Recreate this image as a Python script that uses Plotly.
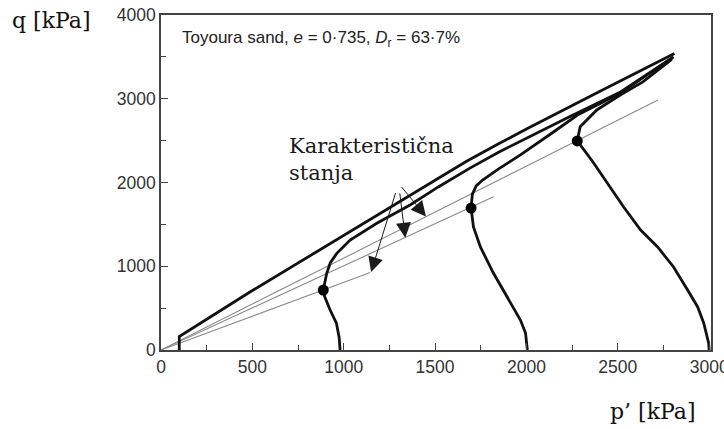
import plotly.graph_objects as go

# Undrained stress paths of Toyoura sand, p' vs q (kPa)
p_100 = [100, 100, 500, 1000, 1363, 1520, 1670, 1840, 2000, 2400, 2810]
q_100 = [0, 160, 710, 1370, 1851, 2060, 2250, 2454, 2638, 3086, 3540]

p_1000 = [980, 975, 960, 925, 895, 888, 907, 926, 962, 1035, 1181, 1363, 1520, 1693, 1850, 2000, 2241, 2515, 2805]
q_1000 = [0, 150, 320, 480, 640, 716, 916, 1039, 1154, 1313, 1513, 1731, 1950, 2175, 2365, 2530, 2790, 3081, 3500]

p_2000 = [2005, 1995, 1967, 1896, 1819, 1748, 1710, 1697, 1704, 1725, 1760, 1850, 1967, 2148, 2279, 2422, 2515, 2800]
q_2000 = [0, 203, 358, 633, 919, 1230, 1469, 1695, 1860, 1960, 2030, 2165, 2329, 2603, 2806, 2965, 3070, 3490]

p_3000 = [3000, 2997, 2970, 2937, 2882, 2805, 2718, 2625, 2532, 2444, 2363, 2278, 2294, 2385, 2513, 2639, 2795]
q_3000 = [0, 84, 322, 514, 717, 991, 1230, 1433, 1708, 1994, 2248, 2496, 2666, 2866, 3045, 3204, 3470]

# Characteristic states (marked points) and the lines from the origin through them
cs_p = [888, 1697, 2278]
cs_q = [716, 1695, 2496]
cs_line_end_p = [1145, 1820, 2720]
cs_line_end_q = [925, 1830, 2985]

# Label arrows: common tail, heads on the characteristic-state lines
arrow_tail_p, arrow_tail_q = 1300, 1990
arrow_tip_p = [1450, 1337, 1150]
arrow_tip_q = [1595, 1340, 930]

x_ticks = [0, 500, 1000, 1500, 2000, 2500, 3000]
y_ticks = [0, 1000, 2000, 3000, 4000]

fig = go.Figure()

for pe, qe in zip(cs_line_end_p, cs_line_end_q):
    fig.add_trace(go.Scatter(x=[0, pe], y=[0, qe], mode="lines",
                             line=dict(color="#8a8a8a", width=1.1),
                             hoverinfo="skip", showlegend=False))

for px, qy in [(p_100, q_100), (p_1000, q_1000), (p_2000, q_2000), (p_3000, q_3000)]:
    fig.add_trace(go.Scatter(x=px, y=qy, mode="lines",
                             line=dict(color="#111111", width=2.8),
                             showlegend=False))

fig.add_trace(go.Scatter(x=cs_p, y=cs_q, mode="markers",
                         marker=dict(color="#000000", size=11),
                         showlegend=False))

serif = "DejaVu Serif"
sans = "Liberation Sans, Arial, sans-serif"

annotations = []
for tp, tq in zip(arrow_tip_p, arrow_tip_q):
    annotations.append(dict(x=tp, y=tq, ax=arrow_tail_p, ay=arrow_tail_q,
                            xref="x", yref="y", axref="x", ayref="y",
                            showarrow=True, arrowhead=2, arrowsize=3,
                            arrowwidth=1, arrowcolor="#1a1a1a", text=" "))

annotations += [
    dict(x=690, y=2600, xref="x", yref="y", xanchor="left", yanchor="top",
         align="left", showarrow=False,
         text="Karakteristična<br>stanja",
         font=dict(family=serif, size=21, color="#1a1a1a")),
    dict(x=104, y=3713, xref="x", yref="y", xanchor="left", yanchor="middle",
         showarrow=False,
         text="Toyoura sand, <i>e</i> = 0·735, <i>D</i><sub>r</sub> = 63·7%",
         font=dict(family=sans, size=17, color="#222222")),
    dict(x=-0.2, y=0.985, xref="paper", yref="paper", xanchor="center",
         yanchor="middle", showarrow=False, text="q [kPa]",
         font=dict(family=serif, size=22, color="#111111")),
    dict(x=0.8945, y=-0.185, xref="paper", yref="paper", xanchor="center",
         yanchor="middle", showarrow=False, text="p’ [kPa]",
         font=dict(family=serif, size=22, color="#111111")),
]

axis_common = dict(showgrid=False, zeroline=False, showline=True, mirror=True,
                   linecolor="#444444", linewidth=1.5, automargin=False,
                   ticks="inside", ticklen=7, tickwidth=1, tickcolor="#444444",
                   ticklabeloverflow="allow",
                   tickfont=dict(family=sans, size=17.5, color="#333333"))

fig.update_layout(
    width=724, height=429,
    margin=dict(l=161, r=13, t=15, b=79, autoexpand=False),
    paper_bgcolor="white", plot_bgcolor="white",
    xaxis=dict(range=[0, 3010], tickvals=x_ticks,
               minor=dict(ticks="inside", ticklen=5, dtick=250, tickcolor="#444444"),
               **axis_common),
    yaxis=dict(range=[0, 4000], tickvals=y_ticks,
               minor=dict(ticks="inside", ticklen=5, dtick=500, tickcolor="#444444"),
               **axis_common),
    annotations=annotations,
)

fig.write_html("out.html")
